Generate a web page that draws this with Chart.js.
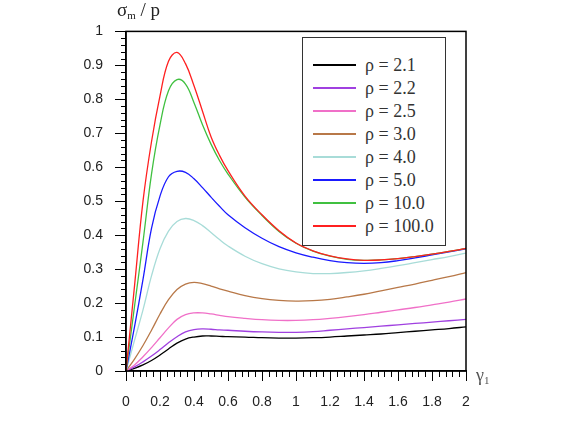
<!DOCTYPE html>
<html>
<head>
<meta charset="utf-8">
<script src="https://cdn.jsdelivr.net/npm/chart.js@4"></script>
<style>
  body { margin: 0; background: #fff; }
  #wrap { position: relative; width: 579px; height: 422px; }
  .lbl { position: absolute; font-family: "Liberation Serif", "Times New Roman", serif; color: #222; white-space: nowrap; }
  .lbl sub { font-size: 11px; vertical-align: -3px; }
  #legend { position: absolute; left: 302px; top: 37px; width: 142px; height: 207px; border: 1.5px solid #333; background: #fff; }
  .row { position: absolute; left: 0; width: 140px; height: 20px; }
  .row .ln { position: absolute; left: 10px; top: 9px; width: 43px; height: 2px; }
  .row .tx { position: absolute; left: 62px; top: 0; line-height: 20px; font-family: "Liberation Serif", "Times New Roman", serif; font-size: 18px; color: #333; white-space: nowrap; }
</style>
</head>
<body>
<div id="wrap">
  <canvas id="chart" width="579" height="422"></canvas>
  <div class="lbl" style="left:117px; top:-1px; font-size:19px;">&sigma;<sub>m</sub> / p</div>
  <div class="lbl" style="left:476px; top:365px; font-size:18px; color:#555;">&gamma;<sub>1</sub></div>
  <div id="legend"></div>
</div>
<script>
// gamma_1 values shared by all curves
const gamma = [0, 0.05, 0.1, 0.15, 0.2, 0.25, 0.3, 0.35, 0.4, 0.45, 0.5, 0.55, 0.6,
  0.7, 0.8, 0.9, 1.0, 1.1, 1.2, 1.3, 1.4, 1.5, 1.6, 1.7, 1.8, 1.9, 2.0];

const rho = ['2.1', '2.2', '2.5', '3.0', '4.0', '5.0', '10.0', '100.0'];
const colors = ['#000000', '#a040e0', '#f070c8', '#b87848', '#a8dcd8', '#1a1aff', '#40c040', '#ff2020'];

const s21 = [0, 0.008, 0.018, 0.031, 0.047, 0.065, 0.082, 0.094, 0.1, 0.103, 0.103, 0.102, 0.101,
  0.1, 0.098, 0.097, 0.097, 0.098, 0.1, 0.103, 0.106, 0.109, 0.113, 0.117, 0.121, 0.125, 0.13];
const s22 = [0, 0.012, 0.027, 0.044, 0.063, 0.083, 0.101, 0.115, 0.122, 0.124, 0.123, 0.121, 0.12,
  0.117, 0.115, 0.114, 0.114, 0.116, 0.12, 0.124, 0.128, 0.132, 0.136, 0.14, 0.144, 0.148, 0.152];
const s25 = [0, 0.018, 0.042, 0.069, 0.098, 0.127, 0.152, 0.166, 0.171, 0.171, 0.168, 0.164, 0.16,
  0.155, 0.151, 0.149, 0.149, 0.151, 0.155, 0.16, 0.166, 0.173, 0.18, 0.187, 0.195, 0.203, 0.212];
const s30 = [0, 0.035, 0.075, 0.12, 0.168, 0.21, 0.24, 0.256, 0.261, 0.257, 0.25, 0.242, 0.235,
  0.222, 0.213, 0.208, 0.206, 0.207, 0.211, 0.218, 0.226, 0.236, 0.246, 0.256, 0.267, 0.278, 0.29];
const s40 = [0, 0.09, 0.18, 0.28, 0.36, 0.412, 0.44, 0.449, 0.443, 0.428, 0.408, 0.387, 0.368,
  0.338, 0.316, 0.301, 0.292, 0.287, 0.287, 0.29, 0.295, 0.302, 0.31, 0.319, 0.328, 0.337, 0.347];
const s50 = [0, 0.13, 0.27, 0.42, 0.515, 0.572, 0.588, 0.585, 0.566, 0.54, 0.512, 0.485, 0.46,
  0.422, 0.391, 0.366, 0.348, 0.335, 0.325, 0.319, 0.317, 0.319, 0.325, 0.333, 0.342, 0.351, 0.36];
const s100 = [0, 0.19, 0.38, 0.58, 0.725, 0.825, 0.858, 0.845, 0.79, 0.725, 0.668, 0.62, 0.58,
  0.512, 0.458, 0.411, 0.376, 0.353, 0.338, 0.329, 0.326, 0.327, 0.331, 0.337, 0.344, 0.352, 0.361];
const s1000 = [0, 0.25, 0.5, 0.675, 0.81, 0.912, 0.938, 0.905, 0.84, 0.765, 0.69, 0.635, 0.59,
  0.515, 0.46, 0.413, 0.377, 0.354, 0.339, 0.33, 0.326, 0.327, 0.331, 0.337, 0.344, 0.352, 0.361];

const series = [s21, s22, s25, s30, s40, s50, s100, s1000];

const datasets = series.map((vals, i) => ({
  label: '\u03c1 = ' + rho[i],
  data: vals.map((v, j) => ({ x: gamma[j], y: v })),
  borderColor: colors[i],
  borderWidth: 1.3,
  pointRadius: 0,
  fill: false,
  tension: 0.4,
  order: series.length - i
}));

// axis frame + major/minor tick marks
const frame = {
  id: 'frame',
  afterDraw(chart) {
    const c = chart.ctx, a = chart.chartArea;
    const xs = chart.scales.x, ys = chart.scales.y;
    c.save();
    c.strokeStyle = '#000';
    c.lineWidth = 1;
    c.beginPath();
    for (let i = 0; i <= 50; i++) {
      const px = Math.round(xs.getPixelForValue(i * 0.04)) + 0.5;
      c.moveTo(px, a.bottom);
      c.lineTo(px, a.bottom + (i % 5 === 0 ? 10 : 6));
    }
    for (let i = 0; i <= 50; i++) {
      const py = Math.round(ys.getPixelForValue(i * 0.02)) + 0.5;
      c.moveTo(a.left, py);
      c.lineTo(a.left - (i % 5 === 0 ? 11 : 5), py);
    }
    c.stroke();
    c.lineWidth = 1.5;
    c.strokeRect(a.left, a.top, a.right - a.left, a.bottom - a.top);
    c.restore();
  }
};

const fmt = v => String(+v.toFixed(1));

const chart = new Chart(document.getElementById('chart'), {
  type: 'line',
  data: { datasets: datasets },
  options: {
    responsive: false,
    animation: false,
    layout: { padding: { top: 31, right: 113, left: 0, bottom: 0 } },
    plugins: { legend: { display: false }, tooltip: { enabled: false } },
    scales: {
      x: {
        type: 'linear', min: 0, max: 2,
        afterFit: s => { s.height = 51; },
        grid: { display: false, drawTicks: false },
        border: { display: true, color: '#000', width: 1.5 },
        ticks: { stepSize: 0.2, padding: 23, color: '#222', maxRotation: 0,
          font: { family: 'Liberation Sans', size: 14 }, callback: fmt }
      },
      y: {
        min: 0, max: 1,
        afterFit: s => { s.width = 126; },
        grid: { display: false, drawTicks: false },
        border: { display: true, color: '#000', width: 1.5 },
        ticks: { stepSize: 0.1, padding: 23, color: '#222',
          font: { family: 'Liberation Sans', size: 14 }, callback: fmt }
      }
    }
  },
  plugins: [frame]
});

// legend box inside the plot, built from the datasets
const legend = document.getElementById('legend');
chart.data.datasets.forEach((ds, i) => {
  const row = document.createElement('div');
  row.className = 'row';
  row.style.top = (17 + i * 23) + 'px';
  const ln = document.createElement('div');
  ln.className = 'ln';
  ln.style.background = ds.borderColor;
  const tx = document.createElement('div');
  tx.className = 'tx';
  tx.textContent = ds.label;
  row.appendChild(ln);
  row.appendChild(tx);
  legend.appendChild(row);
});
</script>
</body>
</html>
